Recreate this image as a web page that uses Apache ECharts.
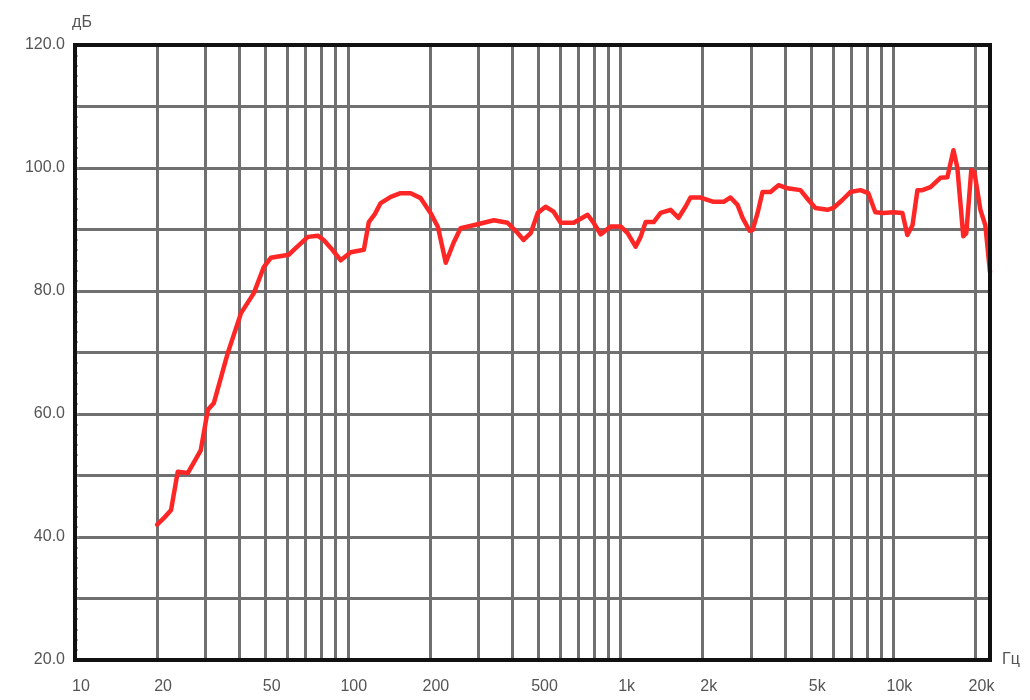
<!DOCTYPE html>
<html>
<head>
<meta charset="utf-8">
<script src="https://cdn.jsdelivr.net/npm/echarts@6/dist/echarts.min.js"></script>
<style>
html,body{margin:0;padding:0;background:#fff;}
#chart{width:1030px;height:700px;}
</style>
</head>
<body>
<div id="chart"></div>
<script>
// Frequency (Hz) and level (dB)
const freqs = [20, 21.2, 22.5, 23.8, 25.9, 28.9, 30.7, 32.3, 36.3, 40.6, 45.3, 49.2, 52.2, 60.8, 63.4, 71.4, 77.6, 81.6, 86.6, 94.2,
  102.5, 114.5, 119.4, 125.6, 132, 143.7, 156, 170, 185, 201, 214, 228.6, 244, 259, 289, 343, 385, 420, 441, 468,
  497, 531, 568, 603, 673, 757, 796, 845, 919, 1000, 1061, 1135, 1184, 1235, 1322, 1402, 1525, 1631, 1729, 1804,
  1963, 2191, 2384, 2528, 2683, 2800, 2970, 3046, 3178, 3313, 3543, 3793, 4092, 4563, 4882, 5180, 5730, 6026, 6500, 6955,
  7566, 8093, 8586, 9184, 10000, 10790, 11250, 11750, 12250, 12770, 13670, 14870, 15770, 16600, 17150, 18040, 18500, 19300, 19820, 20840,
  21730, 22600];
const levels = [42.0, 43.1, 44.4, 50.6, 50.4, 54.1, 60.7, 61.8, 69.9, 76.4, 79.7, 83.9, 85.4, 85.9, 86.7, 88.8, 89.0, 88.3, 87.0, 85.0,
  86.3, 86.7, 91.2, 92.5, 94.3, 95.3, 95.9, 95.9, 95.1, 92.7, 90.4, 84.6, 87.8, 90.2, 90.7, 91.5, 91.1, 89.4, 88.3, 89.4,
  92.7, 93.7, 92.9, 91.1, 91.1, 92.4, 91.1, 89.2, 90.5, 90.5, 89.4, 87.2, 88.8, 91.2, 91.2, 92.7, 93.2, 91.9, 93.7, 95.2,
  95.2, 94.5, 94.5, 95.2, 94.0, 91.9, 89.8, 89.9, 92.7, 96.1, 96.1, 97.2, 96.7, 96.4, 94.8, 93.5, 93.2, 93.5, 94.8, 96.1,
  96.4, 95.9, 92.8, 92.7, 92.8, 92.7, 89.1, 90.7, 96.4, 96.4, 96.9, 98.4, 98.5, 102.9, 100.1, 88.9, 89.4, 99.7, 99.3, 93.2,
  90.7, 83.1];
// Grid frequencies and tick labels
const gridFreqs = [10, 20, 30, 40, 50, 60, 70, 80, 90, 100, 200, 300, 400, 500, 600, 700, 800, 900, 1000,
  2000, 3000, 4000, 5000, 6000, 7000, 8000, 9000, 10000, 20000];
const labelFreqs = [10, 20, 50, 100, 200, 500, 1000, 2000, 5000, 10000, 20000];
const labelTexts = ['10', '20', '50', '100', '200', '500', '1k', '2k', '5k', '10k', '20k'];

const seriesData = freqs.map((f, i) => [f, levels[i]]);

const chart = echarts.init(document.getElementById('chart'));
chart.setOption({
  animation: false,
  backgroundColor: '#fff',
  grid: {
    left: 75, right: 40, top: 45, bottom: 40,
    show: true, borderColor: '#111', borderWidth: 4, backgroundColor: 'transparent', z: 5
  },
  xAxis: {
    type: 'log',
    logBase: 10,
    min: 10,
    max: 22600,
    name: 'Гц',
    nameLocation: 'end',
    nameGap: 12,
    nameTextStyle: { color: '#555', fontSize: 16, fontFamily: 'Liberation Sans, Arial, sans-serif', padding: [0, 0, 6, 0] },
    axisLine: { show: false },
    axisTick: { show: false, customValues: gridFreqs },
    axisLabel: {
      customValues: labelFreqs,
      margin: 19,
      color: '#555',
      fontSize: 16,
      fontFamily: 'Liberation Sans, Arial, sans-serif',
      padding: [0, 0, 0, 12],
      formatter: function (v) {
        const idx = labelFreqs.findIndex(f => Math.abs(f - v) / f < 1e-6);
        return idx >= 0 ? labelTexts[idx] : '';
      }
    },
    splitLine: { show: true, lineStyle: { color: '#707070', width: 3 } },
    minorTick: { show: false },
    minorSplitLine: { show: false }
  },
  yAxis: {
    type: 'value',
    min: 20,
    max: 120,
    interval: 10,
    name: 'дБ',
    nameLocation: 'end',
    nameGap: 14,
    nameTextStyle: { color: '#555', fontSize: 16, fontFamily: 'Liberation Sans, Arial, sans-serif', padding: [0, 0, 0, 14] },
    axisLine: { show: false },
    axisTick: { show: true, inside: true, length: 4, lineStyle: { color: '#888', width: 2 } },
    minorTick: { show: true, splitNumber: 6, length: 3, lineStyle: { color: '#888', width: 1.5 } },
    axisLabel: {
      margin: 10,
      color: '#555',
      fontSize: 16,
      fontFamily: 'Liberation Sans, Arial, sans-serif',
      formatter: function (v) { return (Math.round(v) % 20 === 0) ? v.toFixed(1) : ''; }
    },
    splitLine: { show: true, lineStyle: { color: '#707070', width: 3 } }
  },
  series: [{
    type: 'line',
    data: seriesData,
    showSymbol: false,
    symbol: 'none',
    smooth: false,
    z: 3,
    lineStyle: { color: '#ff2626', width: 4.5, join: 'round', cap: 'round' }
  }]
});
</script>
</body>
</html>
